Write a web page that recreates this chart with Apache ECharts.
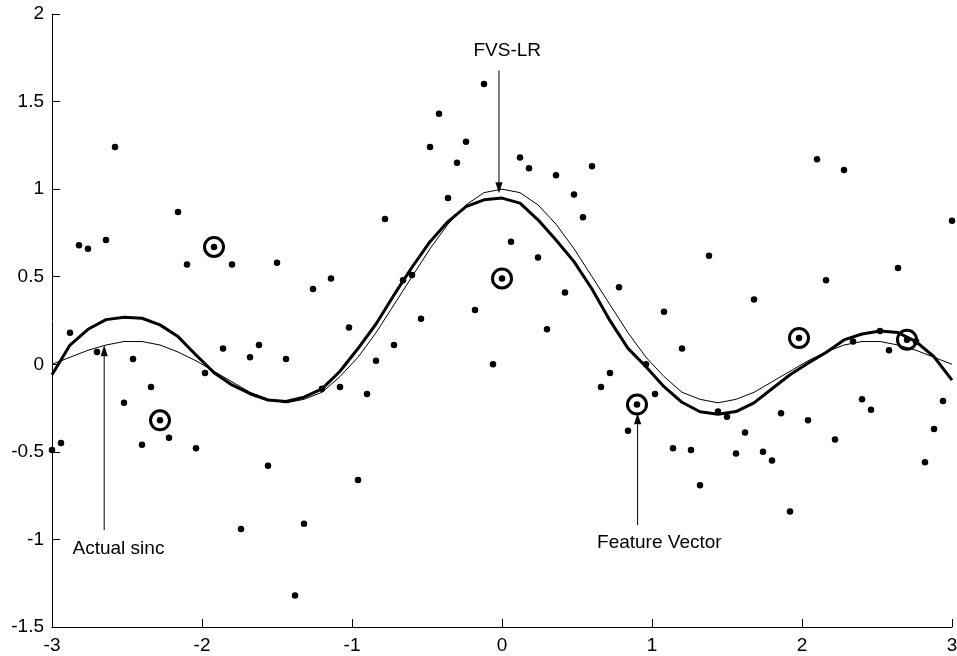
<!DOCTYPE html>
<html>
<head>
<meta charset="utf-8">
<script src="https://cdn.jsdelivr.net/npm/echarts@6/dist/echarts.min.js"></script>
<style>
  html, body { margin: 0; padding: 0; background: #fff; }
  #chart { width: 957px; height: 656px; }
</style>
</head>
<body>
<div id="chart"></div>
<script>
// ---- data ----
const curveX = [-3.00,-2.88,-2.76,-2.64,-2.52,-2.40,-2.28,-2.16,-2.04,-1.92,-1.80,-1.68,-1.56,-1.44,-1.32,-1.20,-1.08,-0.96,-0.84,-0.72,-0.60,-0.48,-0.36,-0.24,-0.12,0.00,0.12,0.24,0.36,0.48,0.60,0.72,0.84,0.96,1.08,1.20,1.32,1.44,1.56,1.68,1.80,1.92,2.04,2.16,2.28,2.40,2.52,2.64,2.76,2.88,3.00];
// thin line: actual sinc
const sincY = [0.00,0.04,0.08,0.11,0.13,0.13,0.11,0.07,0.02,-0.04,-0.10,-0.16,-0.20,-0.22,-0.20,-0.16,-0.07,0.04,0.18,0.34,0.50,0.66,0.80,0.91,0.98,1.00,0.98,0.91,0.80,0.66,0.50,0.34,0.18,0.04,-0.07,-0.16,-0.20,-0.22,-0.20,-0.16,-0.10,-0.04,0.02,0.07,0.11,0.13,0.13,0.11,0.08,0.04,0.00];
// thick line: FVS-LR estimate
const fvsY = [-0.06,0.11,0.20,0.255,0.268,0.263,0.225,0.158,0.053,-0.048,-0.118,-0.168,-0.204,-0.212,-0.188,-0.140,-0.040,0.090,0.230,0.396,0.554,0.700,0.815,0.900,0.939,0.949,0.920,0.825,0.710,0.586,0.430,0.249,0.091,-0.014,-0.128,-0.217,-0.271,-0.285,-0.270,-0.220,-0.140,-0.060,0.006,0.067,0.139,0.173,0.190,0.181,0.129,0.043,-0.090];
// noisy samples
const dotX = [-3.00,-2.94,-2.88,-2.82,-2.76,-2.70,-2.64,-2.58,-2.52,-2.46,-2.40,-2.34,-2.28,-2.22,-2.16,-2.10,-2.04,-1.98,-1.92,-1.86,-1.80,-1.74,-1.68,-1.62,-1.56,-1.50,-1.44,-1.38,-1.32,-1.26,-1.20,-1.14,-1.08,-1.02,-0.96,-0.90,-0.84,-0.78,-0.72,-0.66,-0.60,-0.54,-0.48,-0.42,-0.36,-0.30,-0.24,-0.18,-0.12,-0.06,0.00,0.06,0.12,0.18,0.24,0.30,0.36,0.42,0.48,0.54,0.60,0.66,0.72,0.78,0.84,0.90,0.96,1.02,1.08,1.14,1.20,1.26,1.32,1.38,1.44,1.50,1.56,1.62,1.68,1.74,1.80,1.86,1.92,1.98,2.04,2.10,2.16,2.22,2.28,2.34,2.40,2.46,2.52,2.58,2.64,2.70,2.76,2.82,2.88,2.94,3.00];
const dotY = [-0.49,-0.45,0.18,0.68,0.66,0.07,0.71,1.24,-0.22,0.03,-0.46,-0.13,-0.32,-0.42,0.87,0.57,-0.48,-0.05,0.67,0.09,0.57,-0.94,0.04,0.11,-0.58,0.58,0.03,-1.32,-0.91,0.43,-0.14,0.49,-0.13,0.21,-0.66,-0.17,0.02,0.83,0.11,0.48,0.51,0.26,1.24,1.43,0.95,1.15,1.27,0.31,1.60,0.00,0.49,0.70,1.18,1.12,0.61,0.20,1.08,0.41,0.97,0.84,1.13,-0.13,-0.05,0.44,-0.38,-0.23,0.00,-0.17,0.30,-0.48,0.09,-0.49,-0.69,0.62,-0.27,-0.30,-0.51,-0.39,0.37,-0.50,-0.55,-0.28,-0.84,0.15,-0.32,1.17,0.48,-0.43,1.11,0.13,-0.20,-0.26,0.19,0.08,0.55,0.14,0.13,-0.56,-0.37,-0.21,0.82];
// selected feature vectors (circled)
const fvX = [-2.28,-1.92,0.00,0.90,1.98,2.70];
const fvY = [-0.32,0.67,0.49,-0.23,0.15,0.14];
// annotations: label, arrow start (x,y), arrow tip (x,y), text anchor (x,y)
const annText = ['FVS-LR','Actual sinc','Feature Vector'];
const annFrom = [[-0.02,1.678],[-2.652,-0.947],[0.904,-0.918]];
const annTo   = [[-0.02,0.977],[-2.652,0.109],[0.904,-0.28]];
const annAt   = [[0.035,1.791],[-2.557,-1.051],[1.049,-1.019]];
const xTicks = [-3,-2,-1,0,1,2,3];
const yTicks = [-1.5,-1,-0.5,0,0.5,1,1.5,2];

const FONT = 'Liberation Sans, Arial, Helvetica, sans-serif';
const zip = (a, b) => a.map((v, i) => [v, b[i]]);

const chart = echarts.init(document.getElementById('chart'), null, {renderer: 'canvas'});
const axisCommon = {
  type: 'value',
  splitLine: {show: false},
  axisLine: {show: true, onZero: false, lineStyle: {color: '#000', width: 1}},
  axisTick: {show: true, inside: true, length: 8, lineStyle: {color: '#000', width: 1}},
  axisLabel: {color: '#000', fontSize: 19, fontFamily: FONT, showMinLabel: true, showMaxLabel: true, hideOverlap: false}
};
chart.setOption({
  animation: false,
  backgroundColor: '#fff',
  grid: {left: 52, right: 5, top: 14, bottom: 29, containLabel: false, outerBoundsMode: 'none'},
  xAxis: Object.assign({}, axisCommon, {
    min: xTicks[0], max: xTicks[xTicks.length - 1], interval: 1,
    axisLabel: Object.assign({}, axisCommon.axisLabel, {margin: 9})
  }),
  yAxis: Object.assign({}, axisCommon, {
    min: yTicks[0], max: yTicks[yTicks.length - 1], interval: 0.5,
    axisLabel: Object.assign({}, axisCommon.axisLabel, {margin: 8})
  }),
  series: [
    {
      name: 'Actual sinc', type: 'line', data: zip(curveX, sincY),
      symbol: 'none', smooth: false, clip: true,
      lineStyle: {color: '#000', width: 1, opacity: 1}, z: 2
    },
    {
      name: 'FVS-LR', type: 'line', data: zip(curveX, fvsY),
      symbol: 'none', smooth: false, clip: true,
      lineStyle: {color: '#000', width: 3, join: 'round', opacity: 1}, z: 3
    },
    {
      name: 'Samples', type: 'scatter', data: zip(dotX, dotY),
      symbol: 'circle', symbolSize: 6.5, itemStyle: {color: '#000', opacity: 1}, clip: false, z: 4
    },
    {
      name: 'Feature Vector', type: 'scatter', data: zip(fvX, fvY),
      symbol: 'circle', symbolSize: 19,
      itemStyle: {color: 'rgba(0,0,0,0)', borderColor: '#000', borderWidth: 3, opacity: 1}, clip: false, z: 5
    },
    {
      name: 'Annotations', type: 'custom', clip: false, z: 6,
      data: annText.map((t, i) => [annFrom[i][0], annFrom[i][1], annTo[i][0], annTo[i][1], annAt[i][0], annAt[i][1]]),
      encode: {x: [0, 2, 4], y: [1, 3, 5]},
      renderItem: function (params, api) {
        const p1 = api.coord([api.value(0), api.value(1)]);
        const p2 = api.coord([api.value(2), api.value(3)]);
        const pt = api.coord([api.value(4), api.value(5)]);
        const dx = p2[0] - p1[0], dy = p2[1] - p1[1];
        const len = Math.sqrt(dx * dx + dy * dy) || 1;
        const ux = dx / len, uy = dy / len;
        const hl = 11, hw = 3.6;
        const bx = p2[0] - ux * hl, by = p2[1] - uy * hl;
        return {
          type: 'group',
          children: [
            {type: 'line', shape: {x1: p1[0], y1: p1[1], x2: bx, y2: by}, style: {stroke: '#000', lineWidth: 1}},
            {type: 'polygon', shape: {points: [[p2[0], p2[1]], [bx - uy * hw, by + ux * hw], [bx + uy * hw, by - ux * hw]]}, style: {fill: '#000'}},
            {type: 'text', x: pt[0], y: pt[1], style: {text: annText[params.dataIndex], fill: '#000', fontSize: 19, fontFamily: FONT, align: 'center', verticalAlign: 'middle'}}
          ]
        };
      }
    }
  ]
});
</script>
</body>
</html>
